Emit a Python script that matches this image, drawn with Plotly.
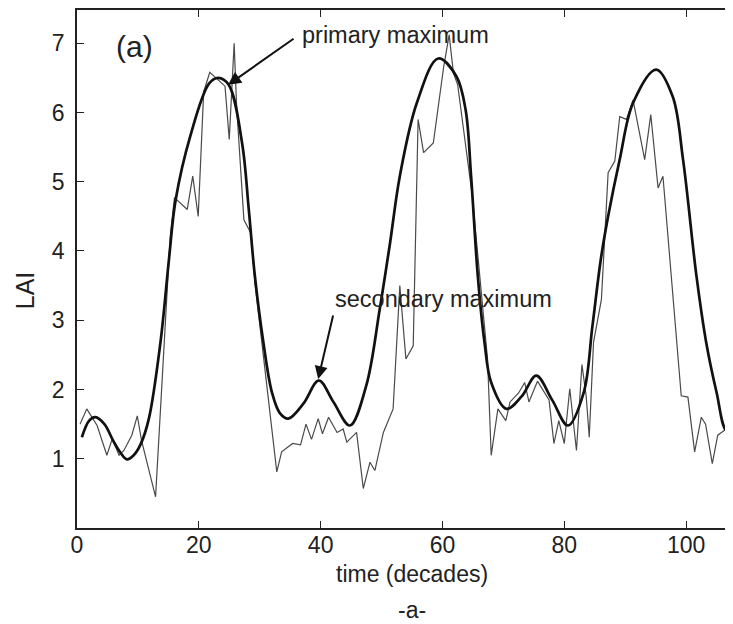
import plotly.graph_objects as go

# Observed (thin, jagged) LAI series: time (decades) and LAI
obs_time = [0.5, 1.6, 3.3, 4.9, 5.8, 6.9, 7.7, 9.0, 9.9, 10.6, 12.9, 15.3, 16.0,
            18.1, 19.0, 19.9, 20.8, 21.8, 24.3, 25.0, 25.8, 26.2, 27.4, 28.6, 29.2,
            32.8, 33.6, 35.4, 36.7, 37.6, 38.5, 39.6, 40.3, 41.3, 42.7, 43.7, 44.3,
            45.9, 47.0, 48.1, 48.9, 50.3, 51.9, 53.0, 54.0, 55.2, 56.0, 56.9, 58.5,
            60.2, 61.1, 61.8, 62.5, 64.9, 67.4, 68.0, 69.1, 69.9, 70.4, 71.1, 72.5,
            73.5, 74.2, 75.6, 77.5, 78.3, 79.1, 80.0, 80.9, 82.0, 82.9, 83.6, 84.1,
            84.8, 86.1, 87.2, 88.3, 89.1, 90.2, 91.3, 93.2, 94.2, 95.4, 96.2, 99.2,
            100.3, 101.4, 102.5, 103.2, 104.3, 105.2, 106.3, 107.7]
obs_lai = [1.50, 1.72, 1.48, 1.05, 1.29, 1.05, 1.12, 1.34, 1.62, 1.26, 0.45, 4.20, 4.77,
           4.60, 5.08, 4.50, 6.30, 6.58, 6.38, 5.61, 7.00, 6.10, 4.45, 4.25, 3.55,
           0.81, 1.10, 1.22, 1.20, 1.50, 1.28, 1.58, 1.36, 1.60, 1.38, 1.43, 1.24,
           1.38, 0.57, 0.95, 0.83, 1.38, 1.72, 3.50, 2.44, 2.63, 5.90, 5.42, 5.56,
           6.66, 7.12, 6.57, 6.40, 4.79, 2.44, 1.05, 1.72, 1.62, 1.55, 1.82, 1.95,
           2.10, 1.82, 2.12, 1.85, 1.22, 1.55, 1.22, 2.01, 1.12, 2.36, 1.90, 1.31,
           2.68, 3.30, 5.13, 5.30, 5.94, 5.90, 6.18, 5.32, 5.97, 4.91, 5.08, 1.91,
           1.89, 1.10, 1.60, 1.50, 0.93, 1.34, 1.41, 1.43]

# Smoothed (thick) LAI curve
fit_time = [0.8, 2.0, 3.0, 4.5, 6.0, 7.2, 8.2, 9.3, 10.4, 11.8, 13.7, 15.1, 16.2,
            18.6, 21.7, 23.2, 24.9, 27.1, 28.2, 29.2, 30.6, 32.0, 33.3, 34.7, 37.2,
            39.7, 42.1, 44.8, 47.5, 49.7, 51.4, 53.0, 55.8, 59.3, 62.3, 63.8, 64.7,
            65.8, 66.9, 68.0, 70.5, 73.0, 75.4, 78.0, 80.6, 83.2, 84.6, 86.0, 87.2,
            89.1, 91.3, 95.1, 97.8, 99.5, 101.7, 103.3, 105.0, 106.6, 107.7]
fit_lai = [1.31, 1.55, 1.60, 1.50, 1.25, 1.08, 0.99, 1.05, 1.20, 1.58, 2.68, 3.88, 4.74,
           5.66, 6.42, 6.50, 6.40, 5.56, 4.60, 3.64, 2.68, 1.96, 1.66, 1.58, 1.80,
           2.13, 1.82, 1.48, 2.06, 3.16, 4.12, 5.08, 6.14, 6.78, 6.52, 6.04, 5.08,
           3.64, 2.68, 2.10, 1.72, 1.90, 2.20, 1.85, 1.48, 1.96, 2.90, 3.88, 4.50,
           5.32, 6.14, 6.62, 6.23, 5.32, 3.64, 2.68, 1.96, 1.41, 1.43]

x_ticks = [0, 20, 40, 60, 80, 100]
y_ticks = [1, 2, 3, 4, 5, 6, 7]

FONT = "Liberation Sans, Arial, sans-serif"
INK = "#222222"

fig = go.Figure()
fig.add_trace(go.Scatter(x=obs_time, y=obs_lai, mode="lines",
                         line=dict(color="#4a4a4a", width=1.2),
                         hoverinfo="x+y", name="observed"))
fig.add_trace(go.Scatter(x=fit_time, y=fit_lai, mode="lines",
                         line=dict(color="#111111", width=2.7, shape="spline", smoothing=1.0),
                         hoverinfo="x+y", name="smoothed"))

axis_common = dict(showgrid=False, zeroline=False, showline=True, linecolor=INK,
                   linewidth=1.5, ticks="inside", ticklen=7, tickwidth=1.3,
                   tickcolor=INK, mirror="ticks", automargin=False,
                   tickfont=dict(family=FONT, size=23, color=INK))

# the page body adds an 8px offset, so the figure is 8px smaller on each side
fig.update_layout(
    width=725, height=616,
    margin=dict(l=69, r=0, t=2, b=96),
    plot_bgcolor="white", paper_bgcolor="white",
    showlegend=False,
    font=dict(family=FONT, color=INK),
    xaxis=dict(range=[0, 107.7], tickvals=x_ticks, ticklabelstandoff=-4, **axis_common),
    yaxis=dict(range=[0, 7.48], tickvals=y_ticks, ticklabelstandoff=6, **axis_common),
)

# axis titles and panel label
fig.add_annotation(x=0.511, y=0, xref="paper", yref="paper", yshift=-46,
                   text="time (decades)", showarrow=False, yanchor="middle",
                   font=dict(family=FONT, size=23, color=INK))
fig.add_annotation(x=0, y=0.459, xref="paper", yref="paper", xshift=-52,
                   text="LAI", showarrow=False, textangle=-90,
                   xanchor="center", yanchor="middle",
                   font=dict(family=FONT, size=25, color=INK))
fig.add_annotation(x=0.511, y=0, xref="paper", yref="paper", yshift=-82,
                   text="-a-", showarrow=False, yanchor="middle",
                   font=dict(family=FONT, size=23, color=INK))
fig.add_annotation(x=9.4, y=6.95, xref="x", yref="y", text="(a)", showarrow=False,
                   font=dict(family=FONT, size=30, color=INK))
fig.add_annotation(x=36.6, y=7.12, xref="x", yref="y", text="primary maximum",
                   showarrow=False, xanchor="left", yanchor="middle",
                   font=dict(family=FONT, size=23.5, color=INK))
fig.add_annotation(x=42.1, y=3.30, xref="x", yref="y", text="secondary maximum",
                   showarrow=False, xanchor="left", yanchor="middle",
                   font=dict(family=FONT, size=23.5, color=INK))
fig.add_annotation(x=24.8, y=6.40, ax=35.8, ay=7.08, xref="x", yref="y",
                   axref="x", ayref="y", text="", showarrow=True,
                   arrowhead=2, arrowsize=1.3, arrowwidth=2, arrowcolor="#111111")
fig.add_annotation(x=39.6, y=2.15, ax=42.1, ay=3.09, xref="x", yref="y",
                   axref="x", ayref="y", text="", showarrow=True,
                   arrowhead=2, arrowsize=1.3, arrowwidth=2, arrowcolor="#111111")

fig.write_html("out.html")
